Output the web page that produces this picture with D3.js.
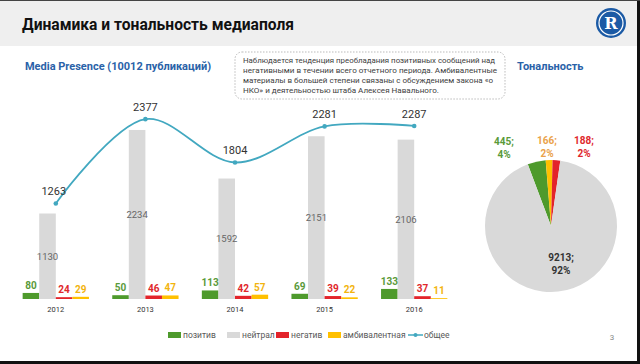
<!DOCTYPE html>
<html><head><meta charset="utf-8">
<script src="https://cdn.jsdelivr.net/npm/d3@7"></script>
<style>html,body{margin:0;padding:0;background:#fff;}svg{display:block;}</style>
</head><body>
<svg id="c" width="640" height="364"></svg>
<script>
// ---- data ----
const years = ["2012","2013","2014","2015","2016"];
const seriesNames = ["позитив","нейтрал","негатив","амбивалентная"];
const positive = [80, 50, 113, 69, 133];
const neutral = [1130, 2234, 1592, 2151, 2106];
const negative = [24, 46, 42, 39, 37];
const ambivalent = [29, 47, 57, 22, 11];
const total = [1263, 2377, 1804, 2281, 2287];
const pieLabels = ["позитив","амбивалентная","негатив","нейтрал"];
const pieValues = [445, 166, 188, 9213];
const piePercents = ["4%","2%","2%","92%"];
const noteLines = [
  "Наблюдается тенденция преобладания позитивных сообщений над",
  "негативными в течении всего отчетного периода. Амбивалентные",
  "материалы в большей степени связаны с обсуждением закона «о",
  "НКО» и деятельностью штаба Алексея Навального."
];

const colors = {"позитив":"#4e9a2c","нейтрал":"#d9d9d9","негатив":"#e3242b","амбивалентная":"#ffc000"};
const labelColors = {"позитив":"#5a9a3a","нейтрал":"#666666","негатив":"#e0282c","амбивалентная":"#f2b40f"};
const pieLabelColors = {"позитив":"#5a9a3a","амбивалентная":"#eaa24a","негатив":"#e0282c","нейтрал":"#333333"};
const lineColor = "#42a8c0";
const FONT = "Roboto, 'Open Sans', sans-serif";

const svg = d3.select("#c");
svg.append("rect").attr("width",640).attr("height",364).attr("fill","#fff");
// header band
svg.append("rect").attr("x",0).attr("y",0).attr("width",640).attr("height",46).attr("fill","#efefef");
svg.append("text").attr("x",22).attr("y",30).attr("font-family",FONT).attr("font-weight",700)
  .attr("font-size",17).attr("fill","#111").attr("textLength",272).attr("lengthAdjust","spacingAndGlyphs")
  .text("Динамика и тональность медиаполя");
// logo
const lg = svg.append("g").attr("transform","translate(611,23)");
lg.append("circle").attr("r",15).attr("fill","#1b5aa5");
lg.append("circle").attr("r",12).attr("fill","none").attr("stroke","#fff").attr("stroke-width",1.2);
lg.append("text").attr("text-anchor","middle").attr("y",6).attr("font-family","'DejaVu Serif', serif")
  .attr("font-weight",700).attr("font-size",16).attr("fill","#fff").text("R");

// subtitles
svg.append("text").attr("x",25).attr("y",70).attr("font-family",FONT).attr("font-weight",700)
  .attr("font-size",11).attr("fill","#2a62a8").attr("textLength",186).attr("lengthAdjust","spacingAndGlyphs")
  .text("Media Presence (10012 публикаций)");
svg.append("text").attr("x",517).attr("y",70).attr("font-family",FONT).attr("font-weight",700)
  .attr("font-size",11).attr("fill","#2a62a8").text("Тональность");

// note box
svg.append("rect").attr("x",235).attr("y",52).attr("width",270).attr("height",47).attr("rx",7)
  .attr("fill","#fff").attr("stroke","#aaa").attr("stroke-width",0.8).attr("stroke-dasharray","1.5,1.5");
const noteWidths = [252, 254, 250, 196];
svg.append("g").selectAll("text").data(noteLines).join("text")
  .attr("x",243).attr("y",(d,i)=>63+i*10).attr("font-family",FONT).attr("font-size",8)
  .attr("textLength",(d,i)=>noteWidths[i]).attr("lengthAdjust","spacingAndGlyphs")
  .attr("fill","#404040").text(d=>d);

// ---- bar chart ----
const x = d3.scaleBand().domain(years).range([11,459]).paddingInner(0.26).paddingOuter(0.13);
const xi = d3.scaleBand().domain(seriesNames).range([0,x.bandwidth()]);
const y = d3.scaleLinear().domain([0,3000]).range([299,72]);
const seriesVals = {"позитив":positive,"нейтрал":neutral,"негатив":negative,"амбивалентная":ambivalent};

const rows = [];
years.forEach((yr,i)=>seriesNames.forEach(s=>rows.push({yr,s,v:seriesVals[s][i]})));

const g = svg.append("g");
g.selectAll("rect.bar").data(rows).join("rect").attr("class","bar")
  .attr("x",d=>x(d.yr)+xi(d.s)).attr("width",xi.bandwidth())
  .attr("y",d=>y(d.v)).attr("height",d=>y(0)-y(d.v)).attr("fill",d=>colors[d.s]);

g.selectAll("text.bl").data(rows).join("text").attr("class","bl")
  .attr("x",d=>x(d.yr)+xi(d.s)+xi.bandwidth()/2)
  .attr("y",d=>d.s==="нейтрал" ? (y(d.v)+y(0))/2+3.5 : y(d.v)-4)
  .attr("text-anchor","middle").attr("font-family",FONT)
  .attr("font-weight",d=>d.s==="нейтрал"?400:700).attr("font-size",d=>d.s==="нейтрал"?9.5:10)
  .attr("fill",d=>labelColors[d.s]).text(d=>d.v);

// x axis labels
const xAxis = d3.axisBottom(x).tickSize(0).tickPadding(6);
const ax = svg.append("g").attr("transform","translate(0,301)").call(xAxis);
ax.select(".domain").remove();
ax.selectAll("text").attr("font-family",FONT).attr("font-size",7.5).attr("fill","#333");

// total line
const line = d3.line().x((d,i)=>x(years[i])+x.bandwidth()/2).y(d=>y(d)).curve(d3.curveCatmullRom.alpha(0.5));
svg.append("path").datum(total).attr("d",line).attr("fill","none").attr("stroke",lineColor).attr("stroke-width",1.8);
svg.append("g").selectAll("circle").data(total).join("circle")
  .attr("cx",(d,i)=>x(years[i])+x.bandwidth()/2).attr("cy",d=>y(d)).attr("r",2.3).attr("fill",lineColor);
svg.append("g").selectAll("text").data(total).join("text")
  .attr("x",(d,i)=>x(years[i])+x.bandwidth()/2 - (i===0?2:0)).attr("y",d=>y(d)-8)
  .attr("text-anchor","middle").attr("font-family",FONT).attr("font-size",11).attr("fill","#333").text(d=>d);

// legend
const legendItems = seriesNames.concat(["общее"]);
const legendX = [168,227,276,328,408];
const lgd = svg.append("g");
legendItems.forEach((s,i)=>{
  const gx = legendX[i];
  if (s==="общее") {
    lgd.append("line").attr("x1",gx).attr("x2",gx+15).attr("y1",335).attr("y2",335).attr("stroke",lineColor).attr("stroke-width",1.5);
    lgd.append("circle").attr("cx",gx+7.5).attr("cy",335).attr("r",2).attr("fill",lineColor);
    lgd.append("text").attr("x",gx+16).attr("y",338).attr("font-family",FONT).attr("font-size",8.5).attr("fill","#595959").text(s);
  } else {
    lgd.append("rect").attr("x",gx).attr("y",332).attr("width",13).attr("height",6).attr("fill",colors[s]);
    lgd.append("text").attr("x",gx+15).attr("y",338).attr("font-family",FONT).attr("font-size",8.5).attr("fill","#595959").text(s);
  }
});

// ---- pie ----
const pieData = pieLabels.map((k,i)=>({k,v:pieValues[i],p:piePercents[i]}));
const startA = -0.36;
const pie = d3.pie().value(d=>d.v).sort(null).startAngle(startA).endAngle(startA+2*Math.PI);
const arcs = pie(pieData);
const r = 66;
const pg = svg.append("g").attr("transform","translate(551,226)");
const arc = d3.arc().innerRadius(0).outerRadius(r);
pg.selectAll("path").data(arcs).join("path").attr("d",arc).attr("fill",d=>colors[d.data.k]);
const pieLabelPos = {"позитив":[-47,-85],"амбивалентная":[-4,-86],"негатив":[33,-86],"нейтрал":[10,31]};
arcs.forEach(a=>{
  const [px,py] = pieLabelPos[a.data.k];
  const t = pg.append("text").attr("text-anchor","middle").attr("font-family",FONT).attr("font-weight",700)
    .attr("font-size",10).attr("fill",pieLabelColors[a.data.k]);
  t.append("tspan").attr("x",px).attr("y",py+4).text(a.data.v+";");
  t.append("tspan").attr("x",px).attr("y",py+17).text(a.data.p);
});

// page number
svg.append("text").attr("x",612).attr("y",340).attr("text-anchor","middle").attr("font-family",FONT)
  .attr("font-size",8).attr("fill","#888").text("3");

// frame
svg.append("rect").attr("x",637).attr("y",0).attr("width",3).attr("height",364).attr("fill","#111");
svg.append("rect").attr("x",0).attr("y",361).attr("width",640).attr("height",3).attr("fill","#111");
svg.append("rect").attr("x",0).attr("y",0).attr("width",640).attr("height",1).attr("fill","#444");
</script>
</body></html>
